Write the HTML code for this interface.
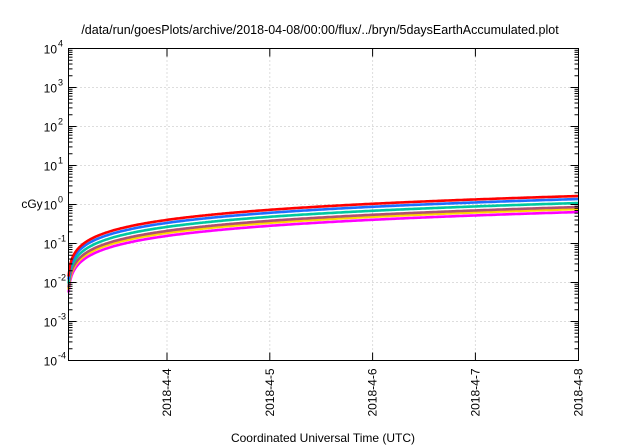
<!DOCTYPE html>
<html><head><meta charset="utf-8"><style>
body{margin:0;background:#fff;}
svg{display:block;font-family:"Liberation Sans",sans-serif;}
</style></head><body>
<svg id="s" width="640" height="448" viewBox="0 0 640 448" xmlns="http://www.w3.org/2000/svg">
<rect width="640" height="448" fill="#fff"/>
<text x="320" y="34" font-size="12.5" text-anchor="middle">/data/run/goesPlots/archive/2018-04-08/00:00/flux/../bryn/5daysEarthAccumulated.plot</text>
<g id="grid" stroke="#bbb" stroke-width="1" stroke-dasharray="1,3"></g>
<g id="curves" fill="none" stroke-width="2.6"></g>
<g id="ticks" stroke="#000" stroke-width="1"></g>
<rect x="68.5" y="48.5" width="510" height="312" fill="none" stroke="#000" stroke-width="1"/>
<g id="labels" font-size="12"></g>
<text x="32" y="208" font-size="12" text-anchor="middle">cGy</text>
<text x="323" y="442" font-size="12" text-anchor="middle">Coordinated Universal Time (UTC)</text>
</svg>
<script>
var ns="http://www.w3.org/2000/svg";
function el(p,t,a,txt){var e=document.createElementNS(ns,t);for(var k in a)e.setAttribute(k,a[k]);if(txt!=null)e.textContent=txt;document.getElementById(p).appendChild(e);return e;}
var L=68.5,R=578.5,T=48.5,B=360.5;
for(var i=0;i<=8;i++){var y=T+i*39;
 if(i>0&&i<8)el("grid","line",{x1:L,x2:R,y1:y,y2:y});
 el("ticks","line",{x1:L,x2:L+8,y1:y,y2:y});el("ticks","line",{x1:R,x2:R-8,y1:y,y2:y});
 for(var m=2;m<10&&i<8;m++){var yy=y+39-39*Math.log10(m);el("ticks","line",{x1:L,x2:L+4,y1:yy,y2:yy});el("ticks","line",{x1:R,x2:R-4,y1:yy,y2:yy});}
 var e=4-i;el("labels","text",{x:57,y:y+5,"text-anchor":"end"},"10");
 el("labels","text",{x:58,y:y-2,"font-size":"9"},String(e));
}
var days=["2018-4-4","2018-4-5","2018-4-6","2018-4-7","2018-4-8"];
for(var d=0;d<5;d++){var x=167+d*102.8;if(d==4)x=578.5;
 if(d<4)el("grid","line",{x1:x,x2:x,y1:T,y2:B});
 el("ticks","line",{x1:x,x2:x,y1:B,y2:B-8});el("ticks","line",{x1:x,x2:x,y1:T,y2:T+8});
 el("labels","text",{x:0,y:0,"text-anchor":"end",transform:"translate("+(x+4)+","+(B+8)+") rotate(-90)"},days[d]);
}
var cs=[["#ff00ff",16],["#ffd700",13],["#b05070",11],["#00c8a0",7],["#1e6eff",3],["#ff0000",0]];
cs.forEach(function(c){var pts=[];
 for(var x=68.5;x<=578.5;x+=1.5){var t=(x-68)/102+0.002;var v=0.255*t+0.145*Math.sqrt(t);var lv=Math.log10(v);var y=204-39*lv+c[1];pts.push(x.toFixed(1)+","+y.toFixed(1));}
 el("curves","polyline",{points:pts.join(" "),stroke:c[0]});
});
</script>
</body></html>
